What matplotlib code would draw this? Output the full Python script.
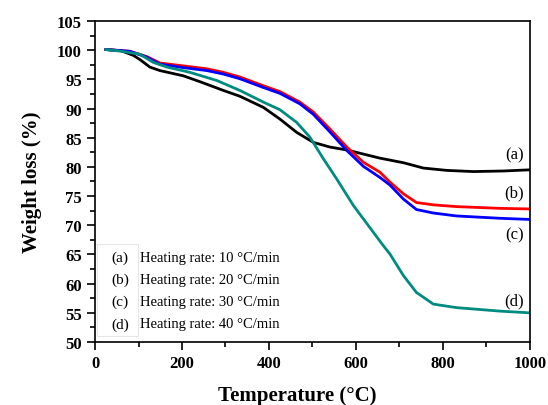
import numpy as np
from matplotlib import pyplot as plt
from matplotlib.ticker import MultipleLocator

plt.rcParams['font.family'] = ['Liberation Serif', 'DejaVu Serif']

# (a) 10 C/min
temp_a = [25, 60, 88, 103, 126, 149, 203, 241, 295, 333, 387, 425, 464, 502, 540, 579, 617, 655, 710, 755, 809, 870, 939, 1000]
wt_a = [100.1, 99.9, 99.1, 98.4, 97.1, 96.5, 95.6, 94.6, 93.1, 92.1, 90.2, 88.2, 85.9, 84.2, 83.4, 82.9, 82.2, 81.5, 80.7, 79.8, 79.4, 79.2, 79.3, 79.5]
# (b) 20 C/min
temp_b = [25, 80, 119, 149, 203, 257, 295, 333, 387, 425, 471, 502, 540, 579, 617, 655, 678, 709, 739, 778, 831, 931, 1000]
wt_b = [100.1, 99.8, 98.9, 97.8, 97.3, 96.8, 96.2, 95.4, 93.9, 92.9, 91.1, 89.4, 86.5, 83.4, 80.8, 79.1, 77.4, 75.4, 73.9, 73.5, 73.2, 72.9, 72.8]
# (c) 30 C/min
temp_c = [25, 80, 119, 149, 203, 257, 295, 333, 387, 425, 471, 502, 540, 579, 617, 655, 678, 709, 739, 778, 831, 931, 1000]
wt_c = [100.1, 99.8, 98.8, 97.6, 97.0, 96.5, 95.9, 95.1, 93.6, 92.6, 90.8, 89.0, 86.0, 82.8, 80.1, 78.2, 76.9, 74.5, 72.7, 72.1, 71.6, 71.2, 71.0]
# (d) 40 C/min
temp_d = [25, 60, 103, 134, 165, 218, 280, 333, 387, 425, 464, 494, 525, 556, 594, 617, 663, 678, 709, 739, 778, 831, 931, 1000]
wt_d = [100.1, 99.8, 99.3, 97.9, 97.1, 96.2, 94.8, 93.1, 91.1, 89.8, 87.6, 85.1, 81.4, 77.9, 73.4, 71.1, 66.5, 65.1, 61.4, 58.5, 56.5, 55.9, 55.3, 55.0]

curve_tags = ['(a)', '(b)', '(c)', '(d)']
rates = [10, 20, 30, 40]
colors = ['black', '#ff0000', '#0000ff', '#008b80']

fig = plt.figure(figsize=(5.48, 4.06), dpi=100)
ax = fig.add_axes([0.1734, 0.155, 0.7936, 0.791])

for t, w, c in zip([temp_a, temp_b, temp_c, temp_d], [wt_a, wt_b, wt_c, wt_d], colors):
    ax.plot(t, w, color=c, lw=2.0, solid_joinstyle='round')

ax.set_xlim(0, 1000)
ax.set_ylim(50, 105)
ax.xaxis.set_major_locator(MultipleLocator(200))
ax.xaxis.set_minor_locator(MultipleLocator(100))
ax.yaxis.set_major_locator(MultipleLocator(5))
ax.yaxis.set_minor_locator(MultipleLocator(2.5))
ax.tick_params(which='major', direction='out', length=6, width=1.2, labelsize=12)
ax.tick_params(which='minor', direction='out', length=3.5, width=1.2)
for lab in ax.get_xticklabels() + ax.get_yticklabels():
    lab.set_fontweight('bold')
for s in ax.spines.values():
    s.set_linewidth(1.2)

ax.set_xlabel('Temperature (\u00b0C)', fontsize=15, fontweight='bold')
ax.set_ylabel('Weight loss (%)', fontsize=15, fontweight='bold')
ax.xaxis.set_label_coords(0.464, -0.135)
ax.yaxis.set_label_coords(-0.122, 0.5)

# curve labels on the right
label_y = [80.7, 74.2, 67.0, 55.8]
for tag, y in zip(curve_tags, label_y):
    ax.text(985, y, tag, ha='right', va='bottom', fontsize=12)

# legend-like text block
leg_y = [64.5, 60.7, 57.0, 53.1]
for tag, r, y in zip(curve_tags, rates, leg_y):
    ax.text(38, y, tag, ha='left', va='center', fontsize=11)
    ax.text(103, y, 'Heating rate: %d \u00b0C/min' % r, ha='left', va='center', fontsize=10.5)
ax.add_patch(plt.Rectangle((5, 51.0), 94, 15.8, fill=False, ec='#e6e6e6', lw=0.8))

fig.savefig('out.png', dpi=100)
